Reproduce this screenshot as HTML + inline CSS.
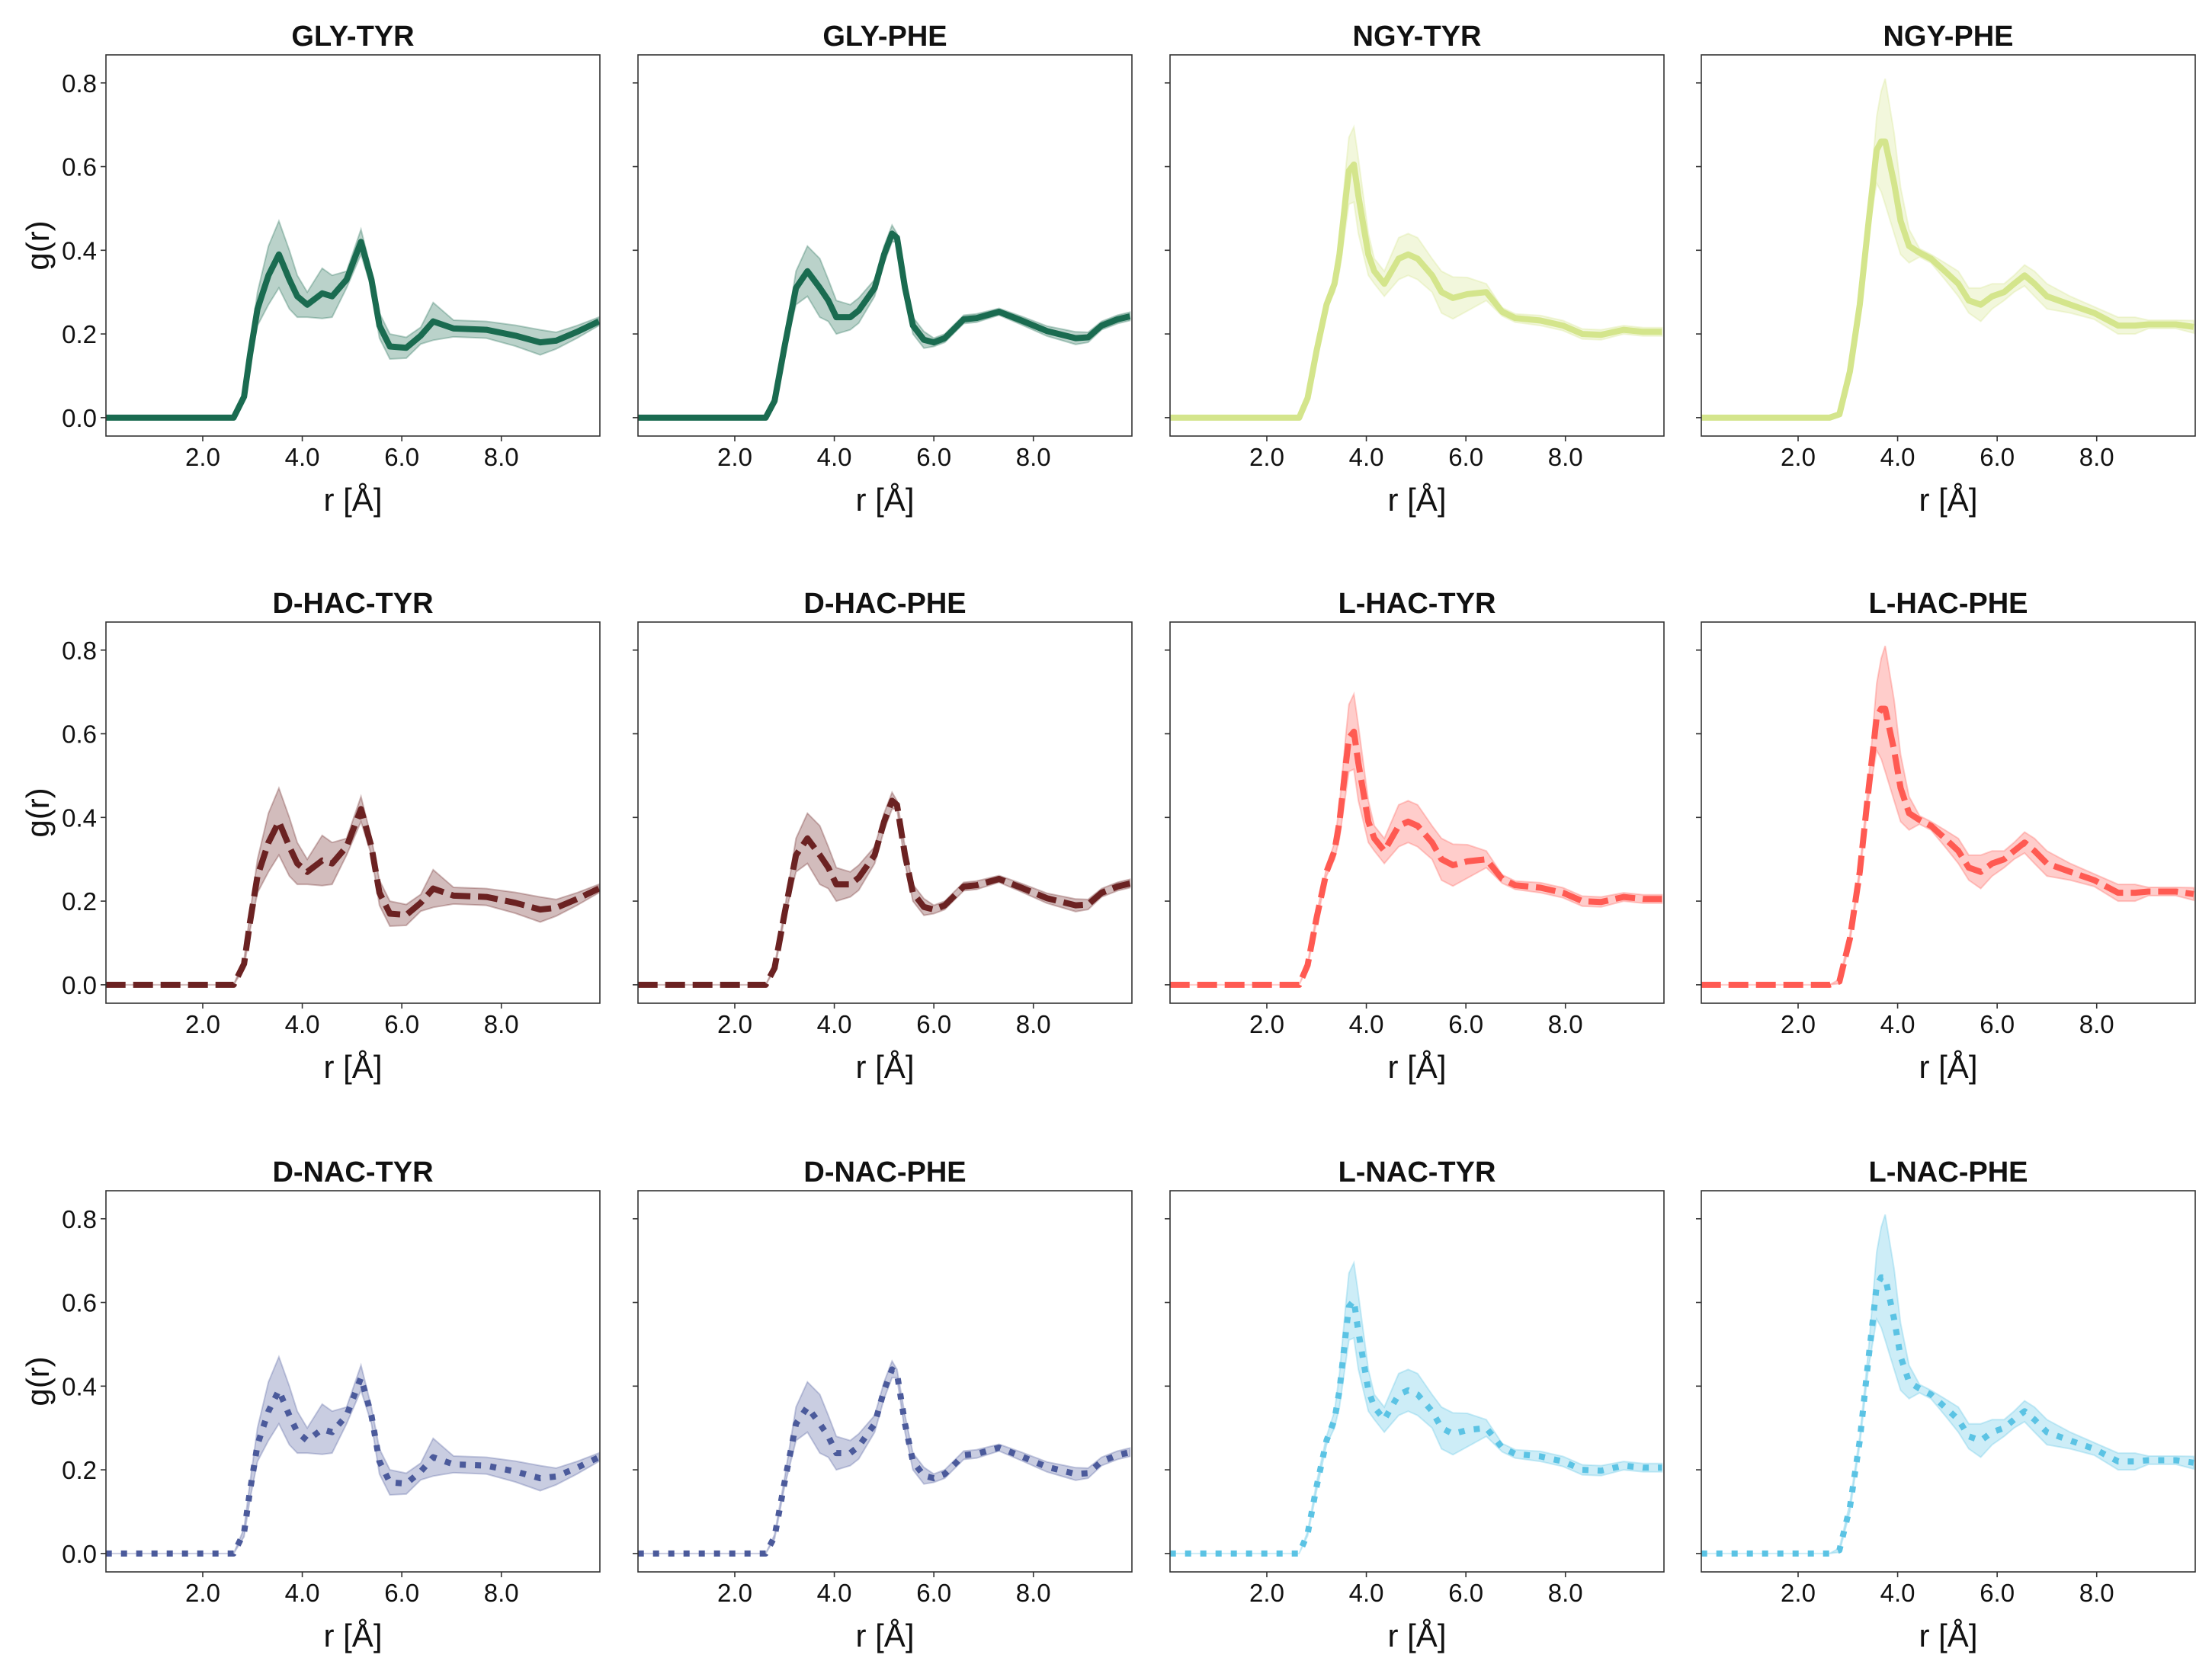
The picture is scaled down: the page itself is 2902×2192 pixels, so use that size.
<!DOCTYPE html>
<html><head><meta charset="utf-8"><style>
html,body{margin:0;padding:0;background:#fff;}
svg{display:block;}
text{font-family:"Liberation Sans",sans-serif;fill:#111;}
</style></head><body>
<svg id="fig" width="2902" height="2192" viewBox="0 0 2902 2192" xmlns="http://www.w3.org/2000/svg"></svg>
<script>
// ---- data ----
const titles = ["GLY-TYR","GLY-PHE","NGY-TYR","NGY-PHE","D-HAC-TYR","D-HAC-PHE","L-HAC-TYR","L-HAC-PHE","D-NAC-TYR","D-NAC-PHE","L-NAC-TYR","L-NAC-PHE"];
const xTicks = [2.0, 4.0, 6.0, 8.0];
const xTickLabels = ["2.0","4.0","6.0","8.0"];
const yTicks = [0.0, 0.2, 0.4, 0.6, 0.8];
const yTickLabels = ["0.0","0.2","0.4","0.6","0.8"];

// shape A: *-TYR (GLY / D-HAC / D-NAC)
const rA    = [0.05,2.62,2.83,2.95,3.10,3.32,3.53,3.74,3.90,4.10,4.40,4.60,4.89,5.18,5.39,5.55,5.76,6.09,6.38,6.63,7.04,7.70,8.28,8.78,9.10,9.52,9.96];
const meanA = [0,0,0.05,0.15,0.26,0.34,0.39,0.33,0.29,0.27,0.297,0.29,0.33,0.42,0.33,0.22,0.17,0.167,0.196,0.23,0.213,0.21,0.196,0.18,0.184,0.205,0.23];
const sdA   = [0,0,0.01,0.02,0.04,0.07,0.08,0.07,0.05,0.03,0.06,0.05,0.02,0.03,0.02,0.03,0.03,0.025,0.02,0.045,0.02,0.02,0.025,0.03,0.02,0.015,0.01];
// shape B: *-PHE (GLY / D-HAC / D-NAC)
const rB    = [0.05,2.62,2.80,3.00,3.23,3.46,3.71,3.88,4.04,4.32,4.49,4.81,5.00,5.16,5.26,5.42,5.58,5.80,6.00,6.22,6.60,6.86,7.31,7.76,8.27,8.85,9.10,9.37,9.69,9.94];
const meanB = [0,0,0.04,0.17,0.31,0.35,0.31,0.28,0.24,0.24,0.256,0.31,0.39,0.44,0.43,0.31,0.22,0.186,0.18,0.19,0.235,0.238,0.253,0.232,0.207,0.19,0.192,0.22,0.235,0.242];
const sdB   = [0,0,0.005,0.01,0.04,0.06,0.07,0.05,0.04,0.03,0.03,0.02,0.02,0.02,0.01,0.02,0.02,0.02,0.01,0.01,0.01,0.01,0.008,0.01,0.012,0.015,0.012,0.01,0.01,0.01];
// shape C: *-TYR (NGY / L-HAC / L-NAC)
const rC    = [0.05,2.65,2.82,3.00,3.20,3.36,3.46,3.59,3.65,3.75,3.84,4.04,4.16,4.36,4.65,4.84,5.03,5.32,5.51,5.74,6.03,6.41,6.73,6.99,7.50,7.95,8.34,8.72,9.17,9.56,9.94];
const meanC = [0,0,0.047,0.16,0.27,0.32,0.39,0.53,0.59,0.605,0.53,0.39,0.35,0.32,0.38,0.39,0.38,0.34,0.30,0.286,0.295,0.30,0.253,0.238,0.232,0.22,0.20,0.198,0.21,0.205,0.205];
const sdC   = [0,0,0.005,0.01,0.01,0.02,0.04,0.07,0.08,0.09,0.09,0.05,0.03,0.03,0.05,0.05,0.05,0.04,0.05,0.05,0.04,0.02,0.01,0.01,0.012,0.012,0.012,0.012,0.01,0.01,0.01];
// shape D: *-PHE (NGY / L-HAC / L-NAC)
const rD    = [0.05,2.63,2.83,3.04,3.24,3.41,3.58,3.67,3.75,3.93,4.06,4.23,4.44,4.67,4.95,5.22,5.43,5.67,5.90,6.14,6.34,6.55,6.75,7.00,7.47,7.95,8.43,8.77,9.04,9.59,9.95];
const meanD = [0,0,0.008,0.11,0.27,0.46,0.64,0.66,0.66,0.56,0.47,0.41,0.394,0.38,0.35,0.32,0.28,0.27,0.29,0.30,0.32,0.34,0.32,0.29,0.27,0.25,0.22,0.22,0.223,0.223,0.217];
const sdD   = [0,0,0.005,0.01,0.01,0.02,0.08,0.12,0.15,0.12,0.08,0.04,0.01,0.01,0.02,0.03,0.03,0.04,0.03,0.02,0.02,0.025,0.03,0.03,0.02,0.015,0.02,0.02,0.01,0.01,0.015];

const panelR    = [rA,rB,rC,rD, rA,rB,rC,rD, rA,rB,rC,rD];
const panelMean = [meanA,meanB,meanC,meanD, meanA,meanB,meanC,meanD, meanA,meanB,meanC,meanD];
const panelSd   = [sdA,sdB,sdC,sdD, sdA,sdB,sdC,sdD, sdA,sdB,sdC,sdD];
const colors = ["#1a6b50","#1a6b50","#d4e58c","#d4e58c","#6b2222","#6b2222","#ff5a52","#ff5a52","#4b5a9b","#4b5a9b","#5bc3e4","#5bc3e4"];
const dashes = ["none","none","none","none","26 10","26 10","26 10","26 10","8 12","8 12","8 12","8 12"];

// ---- layout ----
const NS = "http://www.w3.org/2000/svg";
const svg = document.getElementById("fig");
const colX = [139, 837, 1535, 2232], rowY = [72, 816, 1562];
const PW = 648, PH = 500;
const XMIN = 0.055, XMAX = 9.98, YMIN = -0.044, YMAX = 0.867;

function mk(tag, attrs, parent){
  const e = document.createElementNS(NS, tag);
  for (const k in attrs) e.setAttribute(k, attrs[k]);
  (parent||svg).appendChild(e);
  return e;
}

for (let i = 0; i < 12; i++){
  const col = i % 4, row = Math.floor(i / 4);
  const L = colX[col], T = rowY[row];
  const sx = v => L + (v - XMIN) / (XMAX - XMIN) * PW;
  const sy = v => T + (YMAX - v) / (YMAX - YMIN) * PH;
  const g = mk("g", {});
  
  

  const clipId = "clip" + i;
  const cp = mk("clipPath", {id: clipId}, g);
  mk("rect", {x: L, y: T, width: PW, height: PH}, cp);

  const rs = panelR[i], ms = panelMean[i], sd = panelSd[i];
  let d = "";
  for (let k = 0; k < rs.length; k++) d += (k ? "L" : "M") + sx(rs[k]).toFixed(1) + "," + sy(ms[k] + sd[k]).toFixed(1);
  for (let k = rs.length - 1; k >= 0; k--) d += "L" + sx(rs[k]).toFixed(1) + "," + sy(ms[k] - sd[k]).toFixed(1);
  d += "Z";
  const band = mk("path", {d: d, fill: colors[i], "fill-opacity": 0.3, stroke: colors[i], "stroke-opacity": 0.3, "stroke-width": 2, "clip-path": "url(#" + clipId + ")"}, g);
  
  
  let ld = "";
  for (let k = 0; k < rs.length; k++) ld += (k ? "L" : "M") + sx(rs[k]).toFixed(1) + "," + sy(ms[k]).toFixed(1);
  const line = mk("path", {d: ld, fill: "none", stroke: colors[i], "stroke-width": 8, "stroke-linejoin": "round", "stroke-dasharray": dashes[i], "clip-path": "url(#" + clipId + ")"}, g);
  
  

  const fr = mk("rect", {x: L, y: T, width: PW, height: PH, fill: "none", stroke: "#333", "stroke-width": 1.6}, g);
  
  

  for (let k = 0; k < xTicks.length; k++){
    const x = sx(xTicks[k]);
    mk("line", {x1: x, y1: T + PH, x2: x, y2: T + PH + 7, stroke: "#333", "stroke-width": 1.6}, g);
    const t = mk("text", {x: x, y: T + PH + 39, "font-size": 33, "text-anchor": "middle"}, g);
    t.textContent = xTickLabels[k];
    
    
  }
  for (let k = 0; k < yTicks.length; k++){
    const y = sy(yTicks[k]);
    mk("line", {x1: L - 7, y1: y, x2: L, y2: y, stroke: "#333", "stroke-width": 1.6}, g);
    if (col === 0){
      const t = mk("text", {x: L - 12, y: y + 12, "font-size": 33, "text-anchor": "end"}, g);
      t.textContent = yTickLabels[k];
      
      
    }
  }
  const tt = mk("text", {x: L + PW / 2, y: T - 12, "font-size": 38, "font-weight": "bold", "text-anchor": "middle"}, g);
  tt.textContent = titles[i];
  
  
  const xl = mk("text", {x: L + PW / 2, y: T + PH + 98, "font-size": 42, "text-anchor": "middle"}, g);
  xl.textContent = "r [Å]";
  
  
  if (col === 0){
    const yl = mk("text", {x: 0, y: 0, "font-size": 42, "text-anchor": "middle", transform: "translate(64," + (T + PH * 0.5) + ") rotate(-90)"}, g);
    yl.textContent = "g(r)";
    
    
  }
}
</script>
</body></html>
